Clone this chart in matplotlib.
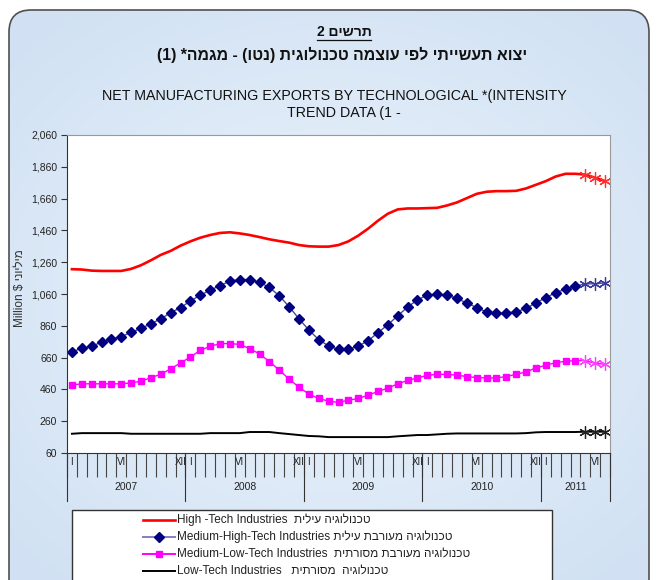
import matplotlib
matplotlib.use('Agg')
import matplotlib.pyplot as plt
import numpy as np
from matplotlib.patches import FancyBboxPatch, Rectangle
from matplotlib.lines import Line2D
from matplotlib.ticker import FuncFormatter

plt.rcParams['font.family'] = ['Liberation Sans', 'DejaVu Sans']

# monthly trend data, Jan 2007 - Jul 2011 (million $)
years = [2007, 2008, 2009, 2010, 2011]
months_per_year = [12, 12, 12, 12, 7]
roman = ['I', 'II', 'III', 'IV', 'V', 'VI', 'VII', 'VIII', 'IX', 'X', 'XI', 'XII']
shown_months = ['I', 'VI', 'XII']
n_estimated = 3  # last months drawn with asterisks

high_tech = [1216, 1214, 1207, 1205, 1205, 1205, 1218, 1241, 1272, 1306, 1331, 1364,
             1391, 1414, 1431, 1444, 1448, 1441, 1431, 1418, 1404, 1393, 1383, 1368,
             1360, 1358, 1358, 1368, 1391, 1427, 1471, 1521, 1565, 1592, 1598, 1598,
             1600, 1602, 1617, 1636, 1663, 1690, 1703, 1707, 1707, 1709, 1724, 1747,
             1770, 1799, 1816, 1816, 1811, 1791, 1770]
med_high_tech = [697, 718, 733, 756, 775, 792, 819, 844, 873, 904, 942, 975,
                 1015, 1053, 1084, 1113, 1141, 1151, 1151, 1134, 1101, 1049, 980, 904,
                 833, 773, 733, 712, 712, 733, 766, 817, 867, 923, 978, 1023,
                 1053, 1059, 1053, 1032, 1003, 975, 946, 938, 940, 948, 969, 1005,
                 1036, 1069, 1090, 1109, 1124, 1124, 1130]
med_low_tech = [488, 495, 495, 495, 495, 495, 501, 511, 534, 555, 589, 626,
                664, 706, 731, 748, 748, 743, 716, 683, 635, 582, 524, 474,
                430, 403, 386, 378, 392, 403, 424, 447, 468, 495, 516, 532,
                549, 555, 555, 549, 541, 534, 532, 532, 541, 555, 570, 595,
                612, 628, 637, 641, 641, 624, 618]
low_tech = [181, 185, 185, 185, 185, 185, 181, 181, 181, 181, 181, 181,
            181, 181, 185, 185, 185, 185, 192, 192, 192, 185, 179, 173,
            167, 165, 160, 160, 160, 160, 160, 160, 160, 165, 169, 173,
            173, 177, 181, 183, 183, 183, 183, 183, 183, 183, 185, 190,
            192, 192, 192, 192, 194, 194, 194]

legend_labels = [
    ('High -Tech Industries  ', 'טכנולוגיה עילית'),
    ('Medium-High-Tech Industries ', 'טכנולוגיה מעורבת עילית'),
    ('Medium-Low-Tech Industries  ', 'טכנולוגיה מעורבת מסורתית'),
    ('Low-Tech Industries   ', 'טכנולוגיה  מסורתית'),
]


def rtl(s):
    # visual order for right-to-left text
    return s[::-1].translate(str.maketrans('()', ')('))


W, H = 656, 580
fig = plt.figure(figsize=(6.56, 5.8), dpi=100)
fig.patch.set_facecolor('white')

# background panel with soft gradient
bg = fig.add_axes([0, 0, 1, 1], zorder=-10)
bg.set_xlim(0, W)
bg.set_ylim(H, 0)
bg.axis('off')
yy, xx = np.mgrid[0:H, 0:W]
d = np.clip(np.sqrt(((xx - 330) / 430.0) ** 2 + ((yy - 300) / 360.0) ** 2), 0, 1)
c0 = np.array([0.93, 0.955, 0.985])
c1 = np.array([0.82, 0.885, 0.955])
img = c0 + (c1 - c0) * d[..., None]
panel = FancyBboxPatch((9, 10), 640, 620, boxstyle='round,pad=0,rounding_size=22',
                       facecolor='none', edgecolor='#505050', lw=1.2)
im = bg.imshow(img, extent=(0, W, H, 0), aspect='auto')
bg.add_patch(panel)
im.set_clip_path(panel)

# legend box
bg.add_patch(Rectangle((72, 510), 480, 90, facecolor='white', edgecolor='#333333', lw=1))

# main chart
ax = fig.add_axes([67 / W, (H - 453) / H, (610 - 67) / W, (453 - 135) / H])
ax.set_facecolor('white')
n = len(high_tech)
x = np.arange(n) + 0.5
k = n - n_estimated

series = [
    (high_tech, '#ff0000', 1.9, None, 0, '#ff0000', '#ff3030'),
    (med_high_tech, '#4a4aa0', 1.0, 'D', 5.0, '#000080', '#3a3a9a'),
    (med_low_tech, '#ff00ff', 1.0, 's', 4.5, '#ff00ff', '#ff40ff'),
    (low_tech, '#000000', 1.4, None, 0, '#000000', '#202020'),
]
for vals, lc, lw, mk, ms, mc, ac in series:
    ax.plot(x, vals, color=lc, lw=lw)
    if mk:
        ax.plot(x[:k], vals[:k], ls='none', marker=mk, ms=ms, mfc=mc, mec=mc)
    ax.plot(x[k:], vals[k:], ls='none', marker=(6, 2, 0), ms=9, mec=ac, mew=0.9)

ax.set_xlim(0, n)
ax.set_ylim(60, 2060)
ax.set_yticks(range(60, 2061, 200))
ax.yaxis.set_major_formatter(FuncFormatter(lambda v, p: f'{int(v):,}'))
ax.tick_params(axis='y', length=4, color='#333333', labelsize=7.5, labelcolor='#222222', pad=3)
ax.set_xticks(range(n + 1))
ax.tick_params(axis='x', length=17, color='#444444', labelbottom=False, width=0.8)
for side in ['left', 'bottom']:
    ax.spines[side].set_color('#333333')
for side in ['top', 'right']:
    ax.spines[side].set_color('#999999')

# month labels, year separators and year labels
xt = ax.get_xaxis_transform()
pos = 0
ax.plot([0, 0], [0, -0.151], transform=xt, color='#333333', lw=0.8, clip_on=False)
for yr, nm in zip(years, months_per_year):
    for m in range(nm):
        if roman[m] in shown_months:
            ax.text(pos + m + 0.5, -0.028, roman[m], transform=xt, ha='center', va='center',
                    fontsize=7, color='#222222')
    ax.text(pos + nm / 2, -0.107, str(yr), transform=xt, ha='center', va='center',
            fontsize=7.5, color='#222222')
    pos += nm
    ax.plot([pos, pos], [0, -0.151], transform=xt, color='#333333', lw=0.8, clip_on=False)

# y label
fig.text(20 / W, 1 - 288 / H, 'Million $ ' + rtl('מיליוני'), rotation=90, ha='center',
         va='center', fontsize=8.5, color='#333333')

# titles
t1 = fig.text(344 / W, 1 - 32 / H, rtl('תרשים 2'), ha='center', va='center',
              fontsize=10, weight='bold', color='#111111')
fig.text(342 / W, 1 - 55 / H, rtl('יצוא תעשייתי לפי עוצמה טכנולוגית (נטו) - מגמה* (1)'),
         ha='center', va='center', fontsize=11.4, weight='bold', color='#111111')
fig.text(334 / W, 1 - 96 / H, 'NET MANUFACTURING EXPORTS BY TECHNOLOGICAL *(INTENSITY',
         ha='center', va='center', fontsize=10.3, color='#111111')
fig.text(344 / W, 1 - 113 / H, 'TREND DATA (1 -', ha='center', va='center',
         fontsize=10.3, color='#111111')

# legend entries
leg_y = [520, 537, 554, 571]
for (en, he), ly, (vals, lc, lw, mk, ms, mc, ac) in zip(legend_labels, leg_y, series):
    line_c = '#8080c0' if mk == 'D' else lc
    bg.add_line(Line2D([143, 175], [ly, ly], color=line_c, lw=1.4 if mk else lw))
    if mk:
        bg.add_line(Line2D([159], [ly], ls='none', marker=mk, ms=ms, mfc=mc, mec=mc))
    bg.text(177, ly, en + rtl(he), ha='left', va='center', fontsize=8.5, color='#222222')

# underline first title line
fig.canvas.draw()
bb = t1.get_window_extent()
fig.add_artist(Line2D([bb.x0 / W, bb.x1 / W], [(bb.y0 - 1) / H, (bb.y0 - 1) / H],
                      color='#111111', lw=0.9, transform=fig.transFigure))

fig.savefig('out.png', dpi=100)
